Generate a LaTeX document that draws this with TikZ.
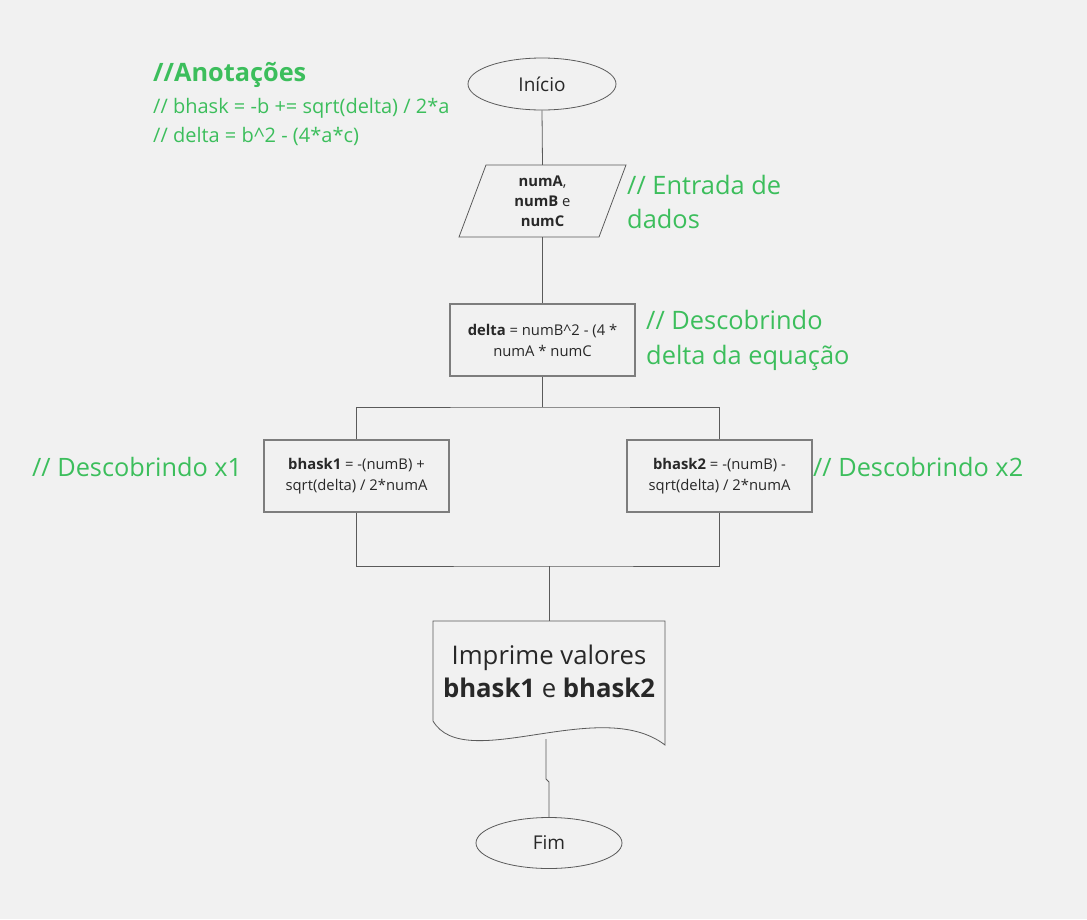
\documentclass[tikz,border=0pt]{standalone}
\usepackage{fontspec}
\setmainfont{Open Sans}
\usetikzlibrary{shapes.geometric}
\definecolor{bg}{RGB}{241,241,241}
\definecolor{grn}{RGB}{60,190,92}
\definecolor{txt}{RGB}{40,40,40}
\definecolor{edgec}{RGB}{125,125,125}
\definecolor{conn}{RGB}{90,90,90}
\tikzset{
  term/.style={ellipse, draw=conn, line width=0.8pt, fill=bg, text=txt, inner sep=0pt,
    font=\fontsize{19}{23}\selectfont},
  box/.style={rectangle, draw=edgec, line width=1.3pt, fill=bg, text=txt, inner sep=0pt,
    minimum width=185, minimum height=72, align=center, font=\fontsize{14.8}{21}\selectfont},
  ghost/.style={rectangle, inner sep=0pt, text=txt, align=center},
  note/.style={text=grn, inner sep=0pt, anchor=west, align=left},
  conn/.style={draw=conn, line width=0.8pt},
}
\begin{document}
\begin{tikzpicture}[x=1pt,y=-1pt]
\fill[bg] (0,0) rectangle (1087,919);
\useasboundingbox (0,0) rectangle (1087,919);

% annotations
\node[note, font=\fontsize{25.3}{30}\selectfont\bfseries] (ann) at (153,75) {//Anotações};
\node[note, font=\fontsize{20}{24}\selectfont] (ann1) at (153,108) {// bhask = -b += sqrt(delta) / 2*a};
\node[note, font=\fontsize{20}{24}\selectfont] (ann2) at (153,136) {// delta = b\textasciicircum2 - (4*a*c)};

% start
\node[term, minimum width=148, minimum height=52] (start) at (542,84) {Início};

% input parallelogram
\draw[conn, fill=bg] (486,165) -- (626,165) -- (599,237) -- (459,237) -- cycle;
\node[ghost, minimum width=140, minimum height=72, font=\fontsize{14.8}{20}\selectfont] (in) at (542.5,201)
  {\textbf{numA},\\\textbf{numB} e\\\textbf{numC}};
\node[note, font=\fontsize{25.4}{34}\selectfont] (nin) at (627,202) {// Entrada de\\dados};

% delta
\node[box] (delta) at (542.5,340) {\textbf{delta} = numB\textasciicircum2 - (4 *\\numA * numC};
\node[note, font=\fontsize{25.4}{35}\selectfont] (ndelta) at (646,340) {// Descobrindo\\delta da equação};

% bhask boxes
\node[box] (b1) at (356.5,476) {\textbf{bhask1} = -(numB) +\\sqrt(delta) / 2*numA};
\node[box] (b2) at (719.5,476) {\textbf{bhask2} = -(numB) -\\sqrt(delta) / 2*numA};
\node[note, font=\fontsize{25.3}{34}\selectfont] (n1) at (32,467) {// Descobrindo x1};
\node[note, font=\fontsize{25.3}{34}\selectfont] (n2) at (813,467) {// Descobrindo x2};

% document
\draw[conn, fill=bg] (433,621) -- (665,621) -- (665,745)
  .. controls (600,695) and (465,775) .. (433,721) -- cycle;
\node[ghost, minimum width=232, minimum height=100, font=\fontsize{25.7}{33}\selectfont] (doc) at (549,671)
  {Imprime valores\\\textbf{bhask1} e \textbf{bhask2}};

% end
\node[term, minimum width=146, minimum height=51] (fim) at (549,843) {Fim};

% connectors
\coordinate (split) at (542.5,407);
\coordinate (merge) at (549,566);
\coordinate (dout) at (546,739);
\coordinate (jog1) at (546,779);
\coordinate (jog2) at (549,782);
\draw[conn] (start.south) -- (in.north);
\draw[conn] (in.south) -- (delta.north);
\draw[conn] (delta.south) -- (split);
\draw[conn] (b1.north) |- (split) -| (b2.north);
\draw[conn] (b1.south) |- (merge) -| (b2.south);
\draw[conn] (merge) -- (doc.north);
\draw[conn] (dout) -- (jog1) -- (jog2) -- (fim.north);
\end{tikzpicture}
\end{document}
